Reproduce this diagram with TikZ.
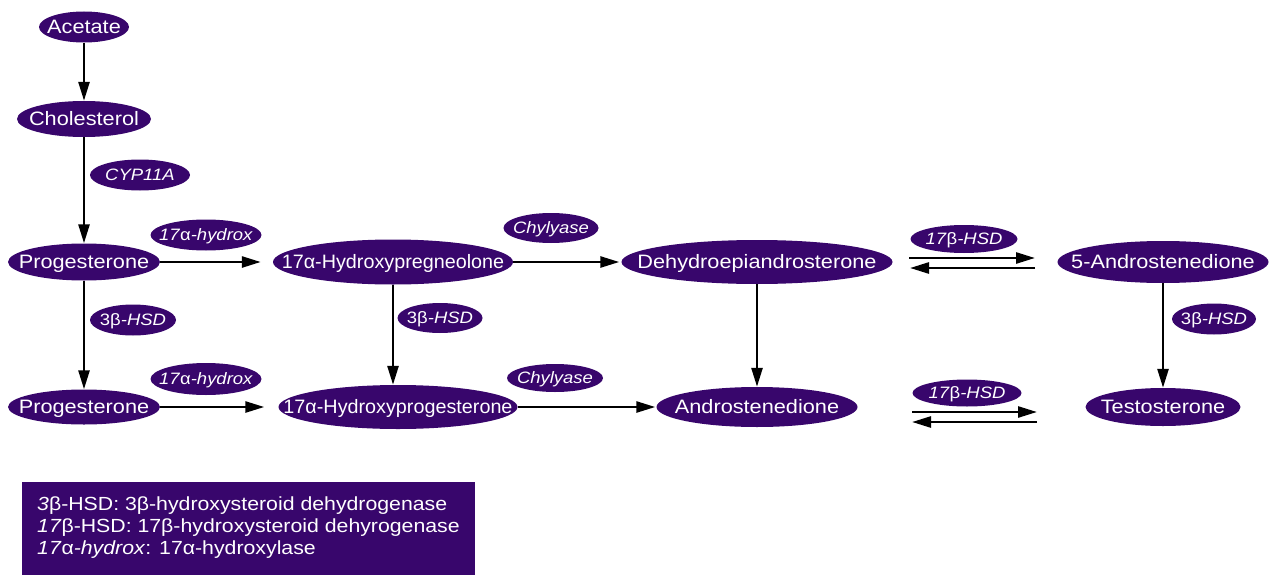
\documentclass[tikz,border=0pt]{standalone}
\usepackage{fontspec}
\setmainfont{Liberation Sans}[FakeStretch=1.12]
\usetikzlibrary{shapes.geometric,arrows.meta}
\definecolor{pcol}{RGB}{56,6,108}
\newcommand{\ctext}[1]{\smash{\makebox[0pt]{\raisebox{-.36em}{#1}}}}
\newcommand{\narrow}[1]{\scalebox{0.91}[1]{#1}}
\begin{document}
\begin{tikzpicture}[x=1pt,y=-1pt,
  mol/.style={ellipse, fill=pcol, text=white, inner sep=0pt, font=\fontsize{19.4}{22}\selectfont},
  enz/.style={ellipse, fill=pcol, text=white, inner sep=0pt, font=\fontsize{16.5}{20}\selectfont},
  arr/.style={line width=2.6pt, -{Triangle[length=19pt,width=11pt]}}]
\useasboundingbox (0,0) rectangle (1273,575);
% molecules
\node[mol, minimum width=90, minimum height=31] (ace) at (84,27) {\ctext{Acetate}};
\node[mol, minimum width=134, minimum height=36] (chol) at (84,119) {\ctext{Cholesterol}};
\node[mol, minimum width=152, minimum height=37] (prog1) at (84,262) {\ctext{Progesterone}};
\node[mol, minimum width=240, minimum height=45] (hpreg) at (393,262) {\ctext{\narrow{17α-Hydroxypregneolone}}};
\node[mol, minimum width=271, minimum height=44] (dhea) at (757,262) {\ctext{Dehydroepiandrosterone}};
\node[mol, minimum width=211, minimum height=42] (andro5) at (1163,262) {\ctext{5-Androstenedione}};
\node[mol, minimum width=152, minimum height=35] (prog2) at (84,407) {\ctext{Progesterone}};
\node[mol, minimum width=239, minimum height=44] (hprog) at (398,407) {\ctext{\narrow{17α-Hydroxyprogesterone}}};
\node[mol, minimum width=201, minimum height=40] (andr) at (757,407) {\ctext{Androstenedione}};
\node[mol, minimum width=155, minimum height=38] (testo) at (1163,407) {\ctext{Testosterone}};
% enzymes
\node[enz, minimum width=100, minimum height=31] (cyp) at (140,175) {\ctext{\itshape CYP11A}};
\node[enz, minimum width=111, minimum height=31] (h1) at (206,235) {\ctext{\textit{17}α\textit{-hydrox}}};
\node[enz, minimum width=95, minimum height=30] (ch1) at (551,228) {\ctext{\itshape Chylyase}};
\node[enz, minimum width=107, minimum height=28] (hsd1) at (964,239) {\ctext{\textit{17}β\textit{-HSD}}};
\node[enz, minimum width=86, minimum height=31] (b1) at (133,320) {\ctext{3β\textit{-HSD}}};
\node[enz, minimum width=85, minimum height=30] (b2) at (440,318) {\ctext{3β\textit{-HSD}}};
\node[enz, minimum width=84, minimum height=31] (b3) at (1214,319) {\ctext{3β\textit{-HSD}}};
\node[enz, minimum width=111, minimum height=32] (h2) at (206,379) {\ctext{\textit{17}α\textit{-hydrox}}};
\node[enz, minimum width=96, minimum height=28] (ch2) at (555,378) {\ctext{\itshape Chylyase}};
\node[enz, minimum width=109, minimum height=27] (hsd2) at (967,393) {\ctext{\textit{17}β\textit{-HSD}}};
% vertical arrows
\draw[arr] (ace.south) -- (chol.north);
\draw[arr] (chol.south) -- (prog1.north);
\draw[arr] (prog1.south) -- (prog2.north);
\draw[arr] (hpreg.south) -- (hpreg.south |- hprog.north);
\draw[arr] (dhea.south) -- (andr.north);
\draw[arr] (andro5.south) -- (testo.north);
% horizontal arrows
\draw[arr, shorten >=12pt] (prog1.east) -- (prog1.east -| hpreg.west);
\draw[arr, shorten >=2pt] (hpreg.east) -- (hpreg.east -| dhea.west);
\draw[arr, shorten >=14pt] (prog2.east) -- (prog2.east -| hprog.west);
\draw[arr, shorten >=1pt] (hprog.east) -- (hprog.east -| andr.west);
% reversible arrows
\coordinate (r1a) at (909,258); \coordinate (r1b) at (1035,258);
\coordinate (r1c) at (1035,268); \coordinate (r1d) at (910,268);
\coordinate (r2a) at (912,412); \coordinate (r2b) at (1037,412);
\coordinate (r2c) at (1037,422); \coordinate (r2d) at (912,422);
\draw[arr] (r1a) -- (r1b);
\draw[arr] (r1c) -- (r1d);
\draw[arr] (r2a) -- (r2b);
\draw[arr] (r2c) -- (r2d);
% legend
\node[fill=pcol, inner sep=0pt, minimum width=453, minimum height=93, anchor=north west] (legend) at (22,482) {};
\node[anchor=west, align=left, text=white, inner sep=0pt, font=\fontsize{19}{22}\selectfont] (legtext) at (37,528)
 {\textit{3}β-HSD: 3β-hydroxysteroid dehydrogenase\\
  \textit{17}β-HSD: 17β-hydroxysteroid dehyrogenase\\
  \textit{17}α\textit{-hydrox}: 17α-hydroxylase};
\end{tikzpicture}
\end{document}
